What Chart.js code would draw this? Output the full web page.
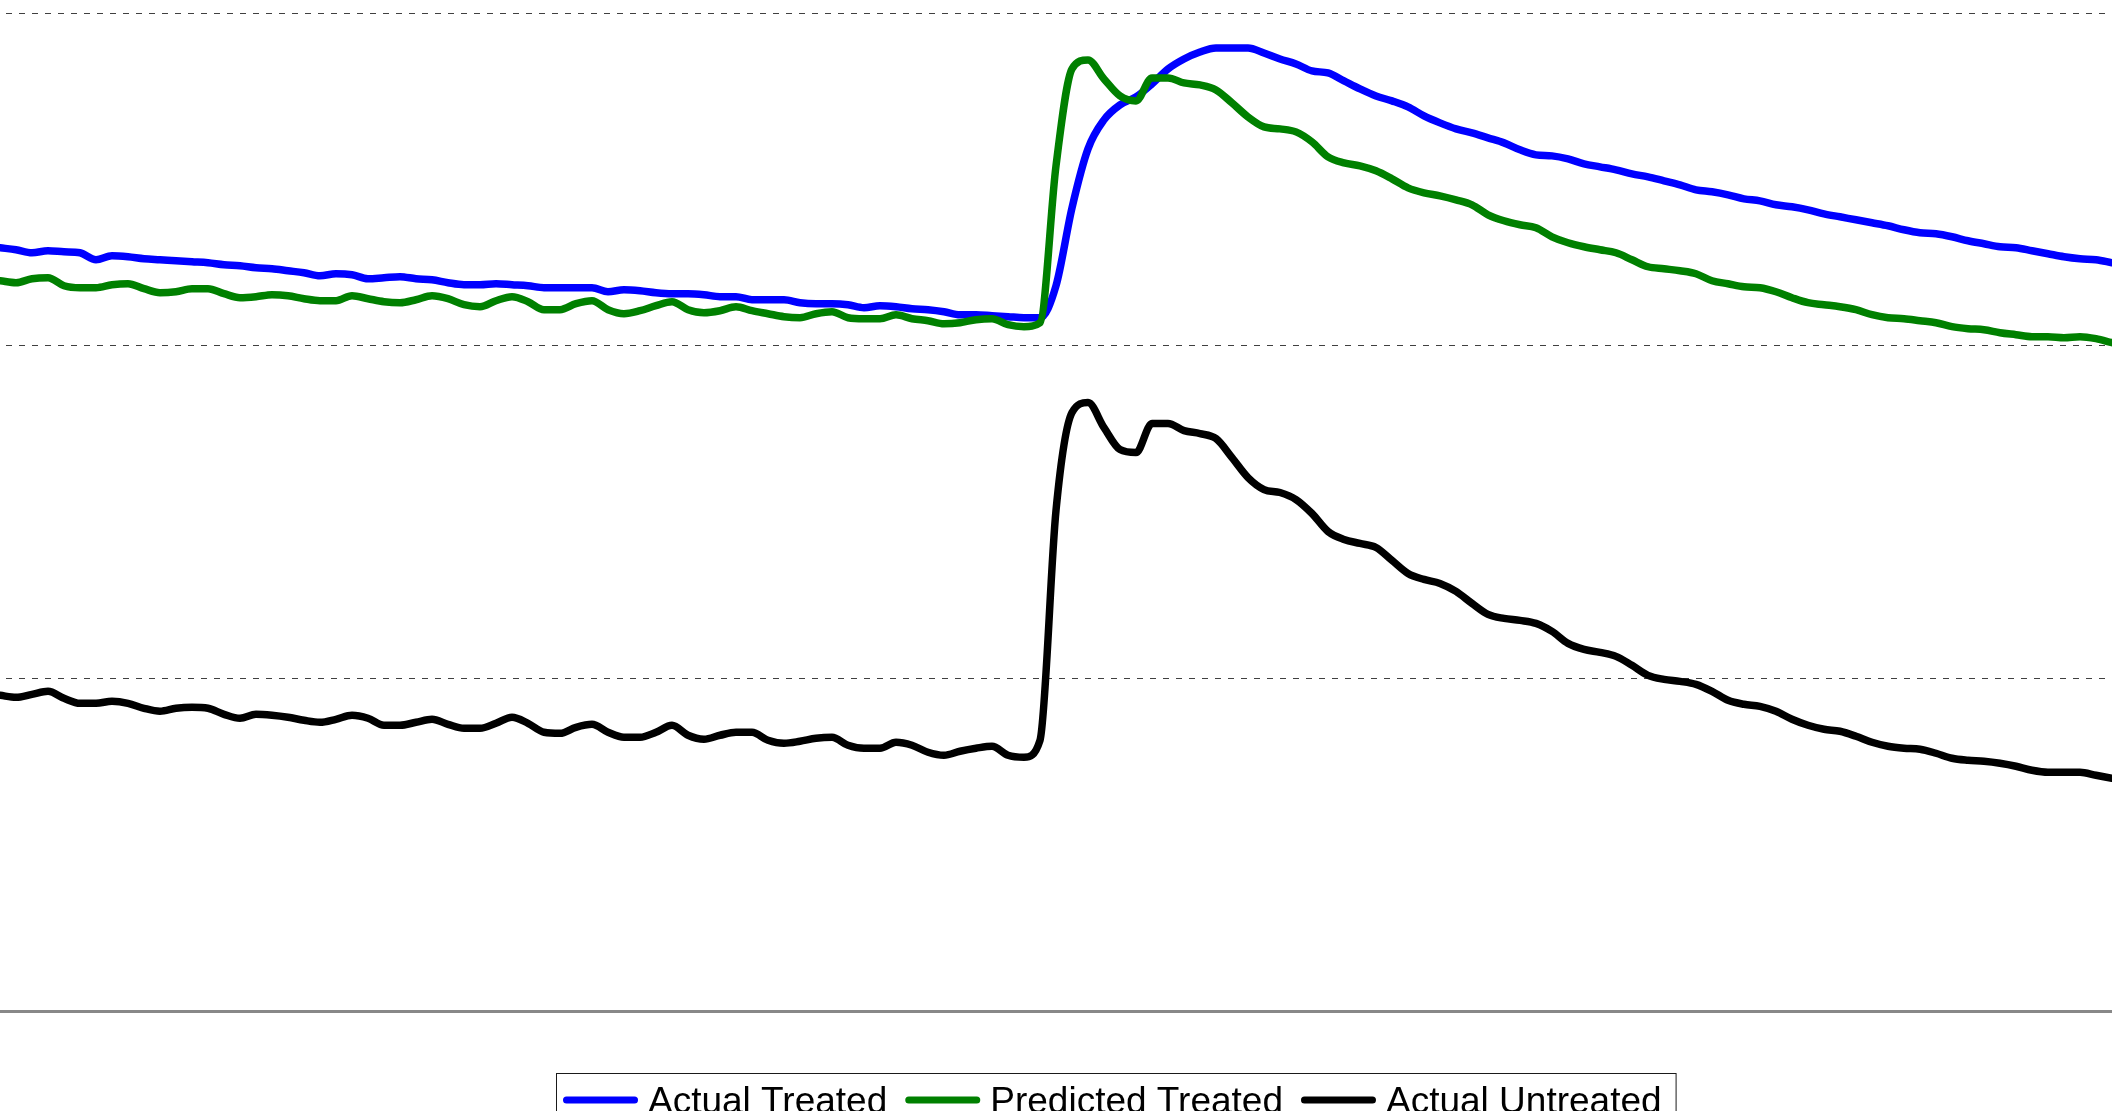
<!DOCTYPE html>
<html>
<head>
<meta charset="utf-8">
<script src="https://cdn.jsdelivr.net/npm/chart.js@4.4.1/dist/chart.umd.min.js"></script>
<style>
  html, body { margin: 0; padding: 0; background: #fff; overflow: hidden; }
  canvas { display: block; }
</style>
</head>
<body>
<canvas id="chart" width="2112" height="1111"></canvas>
<script>
// Day index along the horizontal axis
const days = [
  0, 1, 2, 3, 4, 5, 6, 7, 8, 9, 10, 11, 12, 13, 14, 15,
  16, 17, 18, 19, 20, 21, 22, 23, 24, 25, 26, 27, 28, 29, 30, 31,
  32, 33, 34, 35, 36, 37, 38, 39, 40, 41, 42, 43, 44, 45, 46, 47,
  48, 49, 50, 51, 52, 53, 54, 55, 56, 57, 58, 59, 60, 61, 62, 63,
  64, 65, 66, 67, 68, 69, 70, 71, 72, 73, 74, 75, 76, 77, 78, 79,
  80, 81, 82, 83, 84, 85, 86, 87, 88, 89, 90, 91, 92, 93, 94, 95,
  96, 97, 98, 99, 100, 101, 102, 103, 104, 105, 106, 107, 108, 109, 110, 111,
  112, 113, 114, 115, 116, 117, 118, 119, 120, 121, 122, 123, 124, 125, 126, 127,
  128, 129, 130, 131, 132
];

const actualTreated = [
  764, 762, 759, 761, 760, 759, 752, 756, 755, 753, 752, 751, 750, 749, 747, 746,
  744, 743, 741, 739, 736, 738, 737, 733, 734, 735, 733, 732, 729, 727, 727, 728,
  727, 726, 724, 724, 724, 724, 720, 722, 721, 719, 718, 718, 717, 715, 715, 712,
  712, 712, 709, 708, 708, 707, 704, 706, 705, 703, 702, 700, 697, 697, 696, 695,
  694, 694, 726, 804, 863, 892, 907, 915, 928, 943, 953, 960, 964, 964, 964, 959,
  953, 948, 941, 939, 931, 923, 916, 911, 905, 896, 889, 883, 879, 874, 869, 862,
  857, 856, 853, 848, 845, 842, 838, 835, 831, 827, 822, 820, 817, 813, 811, 807,
  805, 802, 798, 795, 792, 789, 786, 782, 779, 778, 775, 771, 768, 765, 764, 761,
  758, 755, 753, 752, 749
];

const predictedTreated = [
  731, 729, 733, 734, 726, 724, 724, 727, 728, 723, 719, 720, 723, 723, 718, 714,
  715, 717, 716, 713, 711, 711, 716, 713, 710, 709, 712, 716, 713, 707, 705, 711,
  715, 710, 702, 702, 708, 711, 702, 698, 701, 706, 710, 702, 699, 701, 705, 701,
  698, 695, 694, 698, 700, 694, 693, 693, 697, 693, 691, 688, 689, 692, 693, 687,
  685, 689, 846, 943, 952, 933, 916, 911, 934, 934, 929, 927, 922, 909, 895, 885,
  883, 880, 870, 855, 849, 846, 841, 833, 824, 819, 816, 812, 807, 797, 791, 787,
  784, 775, 769, 765, 762, 759, 752, 745, 743, 741, 738, 731, 728, 725, 724, 720,
  714, 709, 707, 705, 702, 697, 694, 693, 691, 689, 685, 683, 682, 679, 677, 675,
  675, 674, 675, 673, 669
];

const actualUntreated = [
  316, 314, 317, 320, 313, 308, 308, 310, 308, 303, 300, 303, 304, 303, 297, 293,
  297, 296, 294, 291, 289, 292, 296, 293, 286, 286, 289, 292, 287, 283, 283, 288,
  294, 288, 279, 278, 284, 287, 279, 274, 274, 279, 286, 276, 272, 276, 279, 279,
  271, 268, 270, 273, 274, 266, 263, 263, 269, 266, 259, 256, 260, 263, 265, 256,
  254, 271, 501, 599, 609, 584, 562, 559, 588, 588, 581, 578, 573, 554, 534, 522,
  519, 512, 498, 480, 472, 468, 464, 451, 438, 432, 428, 420, 408, 397, 393, 391,
  388, 380, 368, 362, 359, 355, 346, 336, 332, 330, 327, 320, 311, 307, 305, 300,
  292, 286, 282, 280, 275, 269, 265, 263, 262, 258, 253, 251, 250, 248, 245, 241,
  239, 239, 239, 236, 233
];

const seriesNames = ['Actual Treated', 'Predicted Treated', 'Actual Untreated'];
const seriesColors = ['#0000ff', '#008000', '#000000'];
const yTicks = { min: 0, max: 999, step: 333 };

// Legend drawn as a framed row of line samples under the plot
const boxedLegend = {
  id: 'boxedLegend',
  afterDraw(chart, args, opts) {
    const ctx = chart.ctx;
    ctx.save();
    ctx.font = opts.font;
    ctx.textBaseline = 'alphabetic';
    ctx.textAlign = 'left';
    let x = opts.left + opts.padLeft;
    const items = chart.data.datasets.map(ds => {
      const item = { label: ds.label, color: ds.borderColor, x: x };
      const w = ctx.measureText(ds.label).width;
      x += opts.sample + opts.textGap + w + opts.itemGap;
      item.end = item.x + opts.sample + opts.textGap + w;
      return item;
    });
    const right = items[items.length - 1].end + opts.padRight;
    ctx.lineWidth = 1;
    ctx.strokeStyle = opts.borderColor;
    ctx.strokeRect(opts.left + 0.5, opts.top + 0.5, right - opts.left, opts.height);
    items.forEach(it => {
      ctx.beginPath();
      ctx.lineCap = 'round';
      ctx.lineWidth = opts.sampleWidth;
      ctx.strokeStyle = it.color;
      ctx.moveTo(it.x + opts.sampleWidth / 2, opts.sampleY);
      ctx.lineTo(it.x + opts.sample - opts.sampleWidth / 2, opts.sampleY);
      ctx.stroke();
      ctx.fillStyle = '#000';
      ctx.fillText(it.label, it.x + opts.sample + opts.textGap, opts.baseline);
    });
    ctx.restore();
  }
};

const lineStyle = {
  borderWidth: 7.5,
  pointRadius: 0,
  pointHoverRadius: 0,
  fill: false,
  cubicInterpolationMode: 'monotone',
  borderJoinStyle: 'round',
  borderCapStyle: 'round'
};

new Chart(document.getElementById('chart'), {
  type: 'line',
  data: {
    labels: days,
    datasets: [
      Object.assign({ label: seriesNames[0], data: actualTreated, borderColor: seriesColors[0], order: 2 }, lineStyle),
      Object.assign({ label: seriesNames[1], data: predictedTreated, borderColor: seriesColors[1], order: 1 }, lineStyle),
      Object.assign({ label: seriesNames[2], data: actualUntreated, borderColor: seriesColors[2], order: 0 }, lineStyle)
    ]
  },
  options: {
    responsive: false,
    animation: false,
    devicePixelRatio: 1,
    layout: { autoPadding: false, padding: { top: 13, bottom: 100, left: 0, right: 0 } },
    plugins: {
      legend: { display: false },
      tooltip: { enabled: false },
      boxedLegend: {
        font: '37px "Liberation Sans", Arial, sans-serif',
        left: 556, top: 1073, height: 80,
        padLeft: 7, padRight: 14,
        sample: 75, sampleWidth: 7, sampleY: 1100,
        textGap: 10, itemGap: 18, baseline: 1113,
        borderColor: '#1a1a1a'
      }
    },
    scales: {
      x: {
        type: 'category',
        offset: false,
        ticks: { display: false },
        grid: { display: true, drawOnChartArea: false, drawTicks: false },
        border: { display: true, color: '#888888', width: 3 }
      },
      y: {
        min: yTicks.min,
        max: yTicks.max,
        ticks: { display: false, stepSize: yTicks.step },
        grid: { display: true, color: '#404040', lineWidth: 1, drawTicks: false },
        border: { display: false, dash: [6, 7], dashOffset: 7 }
      }
    }
  },
  plugins: [boxedLegend]
});
</script>
</body>
</html>
